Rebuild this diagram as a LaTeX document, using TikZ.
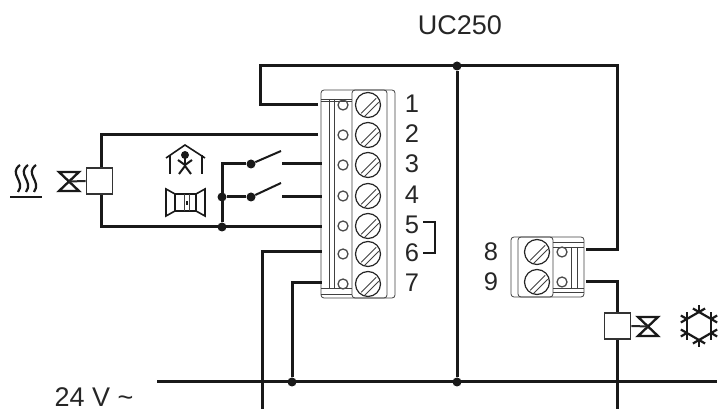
\documentclass[tikz,border=0pt]{standalone}
\usepackage{fontspec}
\setmainfont{Liberation Sans}
\usepackage{tikz}

\begin{document}
\begin{tikzpicture}[x=1pt,y=-1pt]

  \useasboundingbox (0,0) rectangle (718,411);

  % node styles
  \tikzstyle{Wire}=[line width=3pt,black!90]
  \tikzstyle{Thin}=[line width=0.8pt,black!75]
  \tikzstyle{Icon}=[line width=1.6pt,black!90]
  \tikzstyle{Dot}=[shape=circle,fill=black!90,inner sep=0pt,minimum size=9pt]
  \tikzstyle{Label}=[font=\fontsize{25.5}{26}\selectfont,text=black!85,inner sep=0pt]
  \tikzstyle{Big}=[Label,font=\fontsize{27}{27}\selectfont]
  \tikzstyle{Box}=[shape=rectangle,draw=black!80,line width=1.8pt,fill=white,
    inner sep=0pt,minimum width=26pt,minimum height=26pt]
  \tikzstyle{Screw}=[shape=circle,draw=black!85,line width=1.2pt,inner sep=0pt,minimum size=25pt]
  \tikzstyle{Led}=[shape=circle,draw=black!70,line width=1.3pt,inner sep=0pt,minimum size=10pt]

  % terminal block UC250, seven way
  \draw[Thin,rounded corners=3pt] (321,90) rectangle (395,298);
  \draw[Thin,rounded corners=3pt] (352,90) rectangle (387,298);
  \draw[Thin] (321,99) -- (352,99);
  \draw[Thin] (321,101) -- (352,101);
  \draw[Thin] (321,288) -- (352,288);
  \draw[Thin] (321,294) -- (352,294);
  \draw[Thin] (329,99) -- (329,288);
  \draw[Thin] (334,99) -- (334,288);
  \foreach \n/\y in {1/105,2/135,3/165,4/196,5/226,6/254,7/284} {
    \node[Screw] (S\n) at (368,\y) {};
    \draw[Thin] (S\n.225) ++(2.5,-1) -- +(15,-15);
    \draw[Thin] (S\n.225) ++(6,2) -- +(14,-14);
    \node[Led] (L\n) at (343,\y) {};
    \node[Label] (N\n) at (412,\y-1) {\n};
  }

  % terminal block, two way
  \draw[Thin,rounded corners=3pt] (511,237) rectangle (584,297);
  \draw[Thin,rounded corners=3pt] (518,237) rectangle (553,297);
  \draw[Thin] (553,242) -- (584,242);
  \draw[Thin] (553,247) -- (584,247);
  \draw[Thin] (553,288) -- (584,288);
  \draw[Thin] (553,292) -- (584,292);
  \draw[Thin] (571,247) -- (571,288);
  \draw[Thin] (577,247) -- (577,288);
  \foreach \n/\y in {8/252,9/282} {
    \node[Screw] (S\n) at (537,\y) {};
    \draw[Thin] (S\n.225) ++(2.5,-1) -- +(15,-15);
    \draw[Thin] (S\n.225) ++(6,2) -- +(14,-14);
    \node[Led] (L\n) at (562,\y) {};
    \node[Label] (N\n) at (491,\y) {\n};
  }

  % wire ends at the blocks
  \coordinate (T1) at (318,105);
  \coordinate (T2) at (318,135);
  \coordinate (T3) at (322,164);
  \coordinate (T4) at (322,197);
  \coordinate (T5) at (322,227);
  \coordinate (T6) at (322,252);
  \coordinate (T7) at (322,283);
  \coordinate (T8) at (586,250);
  \coordinate (T9) at (586,282);

  % junctions
  \node[Dot] (JTop) at (457,66) {};
  \node[Dot] (JBus) at (457,382) {};
  \node[Dot] (JSeven) at (292,382) {};
  \node[Dot] (JLow) at (222,227) {};
  \node[Dot] (JMid) at (222,197) {};
  \node[Dot] (SwA) at (251,164) {};
  \node[Dot] (SwB) at (251,197) {};

  \coordinate (TopL) at (260,66);
  \coordinate (TopR) at (617,66);
  \coordinate (BusL) at (157,382);
  \coordinate (BusR) at (717,382);
  \coordinate (DownA) at (262,409);
  \coordinate (DownB) at (617,409);
  \coordinate (SwAEnd) at (281,151);
  \coordinate (SwBEnd) at (281,183);
  \coordinate (ContA) at (282,164);
  \coordinate (ContB) at (282,197);

  \draw[Wire] (BusL) -- (BusR);
  \draw[Wire] (T1) -| (TopL) -- (TopR) |- (T8);
  \draw[Wire] (JTop) -- (JBus);
  \draw[Wire] (JSeven) |- (T7);
  \draw[Wire] (DownA) |- (T6);
  \draw[Wire] (DownB) |- (T9);
  \draw[Wire] (JLow) -- (SwA -| JLow) -- (SwA);
  \draw[Wire] (JMid) -- (SwB);
  \draw[Wire,line width=2pt] (SwA) -- (SwAEnd);
  \draw[Wire,line width=2pt] (SwB) -- (SwBEnd);
  \draw[Wire] (ContA) -- (T3);
  \draw[Wire] (ContB) -- (T4);

  % actuator boxes
  \coordinate (HeatTop) at (101,135);
  \coordinate (HeatLow) at (101,227);
  \draw[Wire] (T2) -- (HeatTop) -- (HeatLow) -- (T5);
  \node[Box] (HeatBox) at (99.5,181) {};
  \node[Box] (CoolBox) at (617.5,326) {};

  % valves
  \foreach \v/\x/\y in {HeatValve/69/181.5,CoolValve/648/326.5} {
    \coordinate (\v) at (\x,\y);
    \draw[line width=2.3pt,black!90,line join=miter]
      (\x-10,\y-9.5) -- (\x+10,\y-9.5) -- (\x-10,\y+9.5) -- (\x+10,\y+9.5) -- cycle;
  }
  \draw[line width=2pt,black!85] (HeatValve) -- (HeatBox.west);
  \draw[line width=2pt,black!85] (CoolValve) -- (CoolBox.east);

  % bridge 5-6
  \coordinate (BrA) at (423,222);
  \coordinate (BrB) at (423,253);
  \draw[Wire,line width=2.2pt] (BrA) -- +(12,0) |- (BrB);

  % heat
  \draw[line width=2.5pt,black!90] (10,197) -- (42,197);
  \foreach \x in {17,25,33} {
    \draw[line width=2.2pt,black!90] (\x+3,165) .. controls (\x-9,174) and (\x+9,181) .. (\x+1,192);
  }

  % occupancy
  \draw[Icon] (166,158) -- (185,145) -- (205,158);
  \draw[Icon] (170,155) -- (170,174);
  \draw[Icon] (202,155) -- (202,174);
  \fill[black!90] (185,155) circle (4);
  \draw[Icon,line width=2pt] (178,160) -- (185,165) -- (192,160);
  \draw[Icon,line width=2pt] (185,158) -- (185,166);
  \draw[Icon,line width=2pt] (179,174) -- (185,166) -- (191,174);

  % door
  \draw[Icon] (166,189) -- (175,194) -- (196,194) -- (205,189) -- (205,216)
    -- (196,211) -- (175,211) -- (166,216) -- cycle;
  \draw[Icon] (175,194) -- (175,211);
  \draw[Icon] (196,194) -- (196,211);
  \draw[Thin] (184,194) -- (184,211);
  \draw[Thin] (189,194) -- (189,211);
  \draw[Icon] (187,201) -- (187,205);

  % frost
  \foreach \a in {30,90,...,330} {
    \draw[line width=2.2pt,black!90] (699,326) ++(\a:14) -- ++(\a+120:14);
    \draw[line width=2.2pt,black!90] (699,326) ++(\a:14) -- ++(\a:7);
    \draw[line width=2.2pt,black!90] (699,326) ++(\a:14) -- ++(\a-60:7);
    \draw[line width=2.2pt,black!90] (699,326) ++(\a:14) -- ++(\a+60:7);
  }

  % labels
  \node[Big] (Title) at (460,25) {UC250};
  \node[Big] (Supply) at (94,397) {24 V \textasciitilde};

\end{tikzpicture}
\end{document}
